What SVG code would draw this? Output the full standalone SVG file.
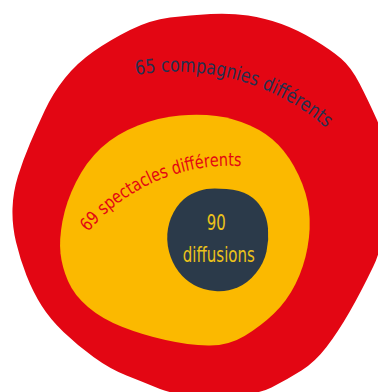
<svg xmlns="http://www.w3.org/2000/svg" width="378" height="392" viewBox="0 0 378 392">
  <style>
    .lbl { font-family: "Liberation Sans Narrow", "DejaVu Sans Condensed", "Liberation Sans", sans-serif; }
  </style>
  <defs>
    <path id="arcOuter" d="M136,75 A229,229 0 0,1 362.6,168.6"/>
    <path id="arcMiddle" d="M88,232 A187,187 0 0,1 295,177"/>
  </defs>
  <rect width="378" height="392" fill="#ffffff"/>
  <g id="outer">
    <path fill="#e30613" d="M210.5,14 Q231,13 248,15.5 Q265,18 281.5,24 Q298,30 314.5,40 Q331,50 341,58.5 Q351,67 359.5,83.5 Q368,100 377,120 Q386,140 386,190 Q386,240 373.5,266 Q361,292 349.5,312 Q338,332 326.5,347 Q315,362 301.5,370.5 Q288,379 271.5,387.5 Q255,396 216,396 Q177,396 160,389 Q143,382 126.5,375.5 Q110,369 93.5,357 Q77,345 63.5,332 Q50,319 41.5,305.5 Q33,292 26.5,275.5 Q20,259 16,242 Q12,225 12.5,208.5 Q13,192 18,176 Q23,160 30,143.5 Q37,127 45,110 Q53,93 65,78 Q77,63 93.5,51.5 Q110,40 130,30 Q150,20 170,17.5 Q190,15 210.5,14 Z"/>
    <text class="lbl" font-size="19.5" fill="#28304f"><textPath href="#arcOuter" textLength="204" lengthAdjust="spacingAndGlyphs">65 compagnies différents</textPath></text>
  </g>
  <g id="middle">
    <path fill="#fbb900" d="M216.5,116 Q233,118 250,125.5 Q267,133 278.5,145 Q290,157 298.5,175 Q307,193 309,210.5 Q311,228 307.5,247.5 Q304,267 295.5,284 Q287,301 274,313.5 Q261,326 244.5,336 Q228,346 208,345.5 Q188,345 165.5,340 Q143,335 122.5,327 Q102,319 88,307 Q74,295 68,281 Q62,267 60.5,253.5 Q59,240 62.5,221 Q66,202 76,182 Q86,162 101,148 Q116,134 138,125.5 Q160,117 180,115.5 Q200,114 216.5,116 Z"/>
    <text class="lbl" font-size="18" fill="#e30613"><textPath href="#arcMiddle" textLength="173" lengthAdjust="spacingAndGlyphs">69 spectacles différents</textPath></text>
  </g>
  <g id="inner">
    <path fill="#2b3a4a" d="M226.5,189 Q240,190 248.5,195 Q257,200 262,208.5 Q267,217 268,228.5 Q269,240 266.5,251.5 Q264,263 256,273 Q248,283 237.5,287.5 Q227,292 215,291 Q203,290 194,285 Q185,280 178.5,271.5 Q172,263 169,251.5 Q166,240 168,228.5 Q170,217 176.5,207.5 Q183,198 191.5,194 Q200,190 206.5,189 Q213,188 226.5,189 Z"/>
    <text class="lbl" font-size="20.5" fill="#ecc21a" x="216.2" y="229.5" text-anchor="middle" textLength="19" lengthAdjust="spacingAndGlyphs">90</text>
    <text class="lbl" font-size="20.5" fill="#ecc21a" x="218.8" y="261.7" text-anchor="middle" textLength="72" lengthAdjust="spacingAndGlyphs">diffusions</text>
  </g>
</svg>
